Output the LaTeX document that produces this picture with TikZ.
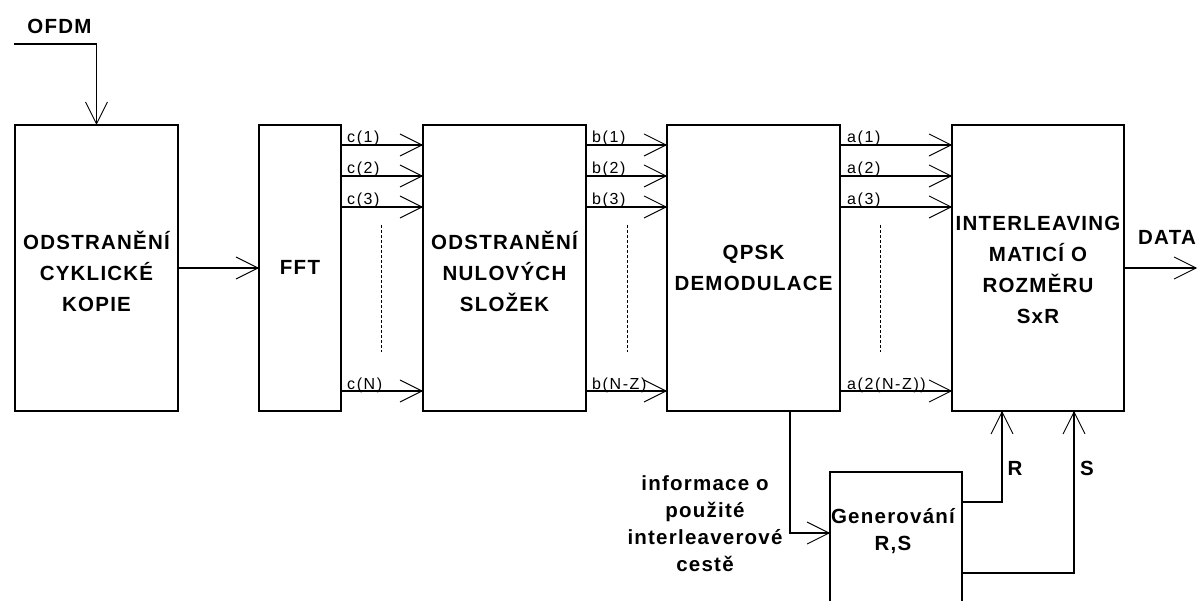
\documentclass[tikz,border=0pt]{standalone}
\usepackage{fontspec}
\setmainfont{Liberation Sans}
\newfontfamily\ttlfont[LetterSpace=6]{Liberation Sans}
\newfontfamily\lblfont[LetterSpace=10]{Liberation Sans}
\usetikzlibrary{arrows.meta}
\begin{document}
\begin{tikzpicture}[x=1pt,y=-1pt,
  blk/.style={draw, line width=1.2pt, inner sep=0pt, outer sep=0pt},
  ttl/.style={align=center, inner sep=0pt, font=\ttlfont\bfseries\fontsize{20.5}{31}\selectfont},
  info/.style={align=center, inner sep=0pt, font=\ttlfont\bfseries\fontsize{20.5}{27}\selectfont},
  lbl/.style={anchor=base west, inner sep=0pt, font=\lblfont\fontsize{16}{18}\selectfont},
  arr/.style={line width=1.2pt, -{Straight Barb[length=22pt,width=22pt,line width=0.9pt]}},
  dots/.style={line width=0.8pt, dash pattern=on 3pt off 2pt}]
\useasboundingbox (0,0) rectangle (1204,601);
\fill[white] (0,0) rectangle (1204,601);
\begin{scope}
\clip (0,0) rectangle (1204,601);
% blocks
\node[blk, minimum width=163pt, minimum height=286pt] (b1) at (96.5,268) {};
\node[blk, minimum width=82pt, minimum height=286pt] (fft) at (300,268) {};
\node[blk, minimum width=163pt, minimum height=286pt] (b3) at (504.5,268) {};
\node[blk, minimum width=173pt, minimum height=286pt] (b4) at (753.5,268) {};
\node[blk, minimum width=172pt, minimum height=286pt] (b5) at (1038,268) {};
\node[blk, minimum width=132pt, minimum height=158pt] (gen) at (896,551) {};
\end{scope}
% block texts
\node[ttl] (t1) at (96.5,271) {ODSTRANĚNÍ\\CYKLICKÉ\\KOPIE};
\node[ttl] (t2) at (300,267) {FFT};
\node[ttl] (t3) at (504.5,271) {ODSTRANĚNÍ\\NULOVÝCH\\SLOŽEK};
\node[ttl] (t4) at (753.5,268) {QPSK\\DEMODULACE};
\node[ttl] (t5) at (1038,270) {INTERLEAVING\\MATICÍ O\\ROZMĚRU\\SxR};
\node[info] (t6) at (893,531) {Generování\\R,S};
\node[info] (t7) at (705,524) {informace o\\použité\\interleaverové\\cestě};
\node[ttl] (tofdm) at (59.5,26) {OFDM};
\node[ttl] (tdata) at (1167,237) {DATA};
\node[ttl] (tr) at (1015,468) {R};
\node[ttl] (ts) at (1087,468) {S};
% helper coordinates
\coordinate (ofdm0) at (14,44);
\coordinate (y1) at (0,145);
\coordinate (y2) at (0,176);
\coordinate (y3) at (0,207);
\coordinate (yN) at (0,391);
\coordinate (dataend) at (1197,268);
\coordinate (qx) at (790,0);
\coordinate (iy) at (0,533);
\coordinate (rx) at (1002,0);
\coordinate (ry) at (0,502);
\coordinate (sx) at (1074,0);
\coordinate (sy) at (0,573);
% connectors
\draw[arr] (ofdm0) -| (b1.north);
\draw[arr] (b1.east) -- (fft.west);
\foreach \c in {y1,y2,y3,yN} {
  \draw[arr] (fft.east |- \c) -- (b3.west |- \c);
  \draw[arr] (b3.east |- \c) -- (b4.west |- \c);
  \draw[arr] (b4.east |- \c) -- (b5.west |- \c);
}
\draw[arr] (b5.east) -- (dataend);
\draw[arr] (b4.south -| qx) |- (gen.west |- iy);
\draw[arr] (gen.east |- ry) -| (b5.south -| rx);
\draw[arr] (gen.east |- sy) -| (b5.south -| sx);
% labels
\node[lbl] (c1) at (347,143) {c(1)};
\node[lbl] (c2) at (347,174) {c(2)};
\node[lbl] (c3) at (347,205) {c(3)};
\node[lbl] (cN) at (347,389) {c(N)};
\node[lbl] (bb1) at (592,143) {b(1)};
\node[lbl] (bb2) at (592,174) {b(2)};
\node[lbl] (bb3) at (592,205) {b(3)};
\node[lbl] (bbN) at (592,389) {b(N-Z)};
\node[lbl] (a1) at (847,143) {a(1)};
\node[lbl] (a2) at (847,174) {a(2)};
\node[lbl] (a3) at (847,205) {a(3)};
\node[lbl] (aN) at (847,389) {a(2(N-Z))};
% dotted continuation marks
\draw[dots] (381,225) -- (381,352);
\draw[dots] (627,225) -- (627,352);
\draw[dots] (880,225) -- (880,352);
\end{tikzpicture}
\end{document}
